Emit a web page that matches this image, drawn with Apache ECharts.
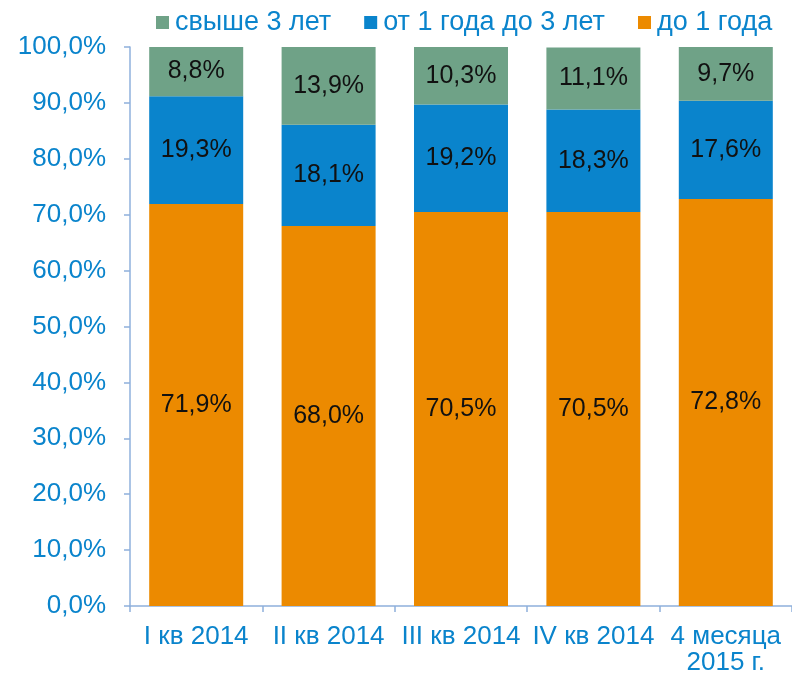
<!DOCTYPE html>
<html><head><meta charset="utf-8">
<script src="https://cdn.jsdelivr.net/npm/echarts@6/dist/echarts.min.js"></script>
<style>html,body{margin:0;padding:0;background:#fff}#c{width:792px;height:676px}</style>
</head><body><div id="c"></div>
<script>
const categories = ['I кв 2014', 'II кв 2014', 'III кв 2014', 'IV кв 2014', '4 месяца\n2015 г.'];
const upTo1Year = [71.9, 68.0, 70.5, 70.5, 72.8];
const from1to3Years = [19.3, 18.1, 19.2, 18.3, 17.6];
const over3Years = [8.8, 13.9, 10.3, 11.1, 9.7];
const seriesNames = ['свыше 3 лет', 'от 1 года до 3 лет', 'до 1 года'];

const fmt = v => v.toFixed(1).replace('.', ',') + '%';
const font = 'Liberation Sans, Arial, sans-serif';
const blueText = '#0A84CC';
const axisColor = '#8FB0DC';

const chart = echarts.init(document.getElementById('c'));
const mk = (name, data, color) => ({
  name, type: 'bar', stack: 's', data, barWidth: '71%',
  itemStyle: { color },
  label: { show: true, position: 'inside', color: '#111', fontSize: 25, fontFamily: font,
    formatter: p => fmt(p.value) }
});
chart.setOption({
  animation: false,
  legend: {
    top: 4, left: 151,
    itemWidth: 13, itemHeight: 13, itemGap: 33,
    icon: 'rect',
    data: seriesNames,
    textStyle: { color: blueText, fontSize: 27, fontFamily: font, padding: [0, 0, 0, 1] }
  },
  grid: { left: 130, right: -6, top: 47, bottom: 70 },
  xAxis: {
    type: 'category', data: categories,
    axisLine: { lineStyle: { color: axisColor, width: 1.5 } },
    axisTick: { show: true, length: 6, lineStyle: { color: axisColor, width: 1.5 } },
    axisLabel: { color: blueText, fontSize: 26, fontFamily: font, margin: 18, lineHeight: 26, interval: 0 }
  },
  yAxis: {
    type: 'value', min: 0, max: 100, interval: 10,
    axisLine: { show: true, lineStyle: { color: axisColor, width: 1.5 } },
    axisTick: { show: true, length: 6, lineStyle: { color: axisColor, width: 1.5 } },
    splitLine: { show: false },
    axisLabel: { color: blueText, fontSize: 26, fontFamily: font, margin: 24, formatter: v => fmt(v) }
  },
  series: [
    mk(seriesNames[2], upTo1Year, '#EC8A00'),
    mk(seriesNames[1], from1to3Years, '#0A84CC'),
    mk(seriesNames[0], over3Years, '#6FA287')
  ]
});
</script></body></html>
